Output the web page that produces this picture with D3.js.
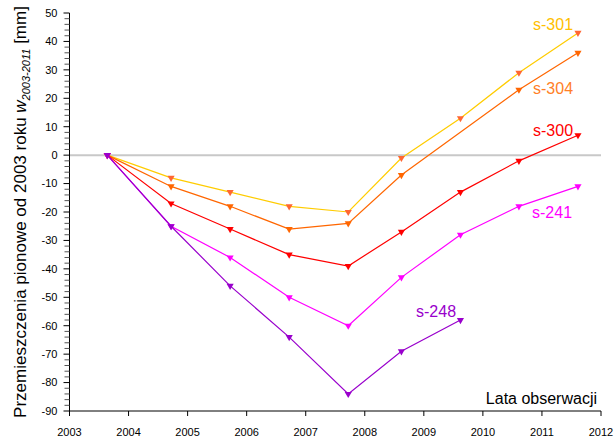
<!DOCTYPE html>
<html><head><meta charset="utf-8">
<script src="https://cdn.jsdelivr.net/npm/d3@7"></script>
<style>body{margin:0;background:#fff;}svg{display:block;font-family:"Liberation Sans",Arial,sans-serif;}</style>
</head><body>
<svg id="c" width="614" height="439"></svg>
<script>
const dates = [2003.64, 2004.72, 2005.72, 2006.72, 2007.72, 2008.62, 2009.62, 2010.61, 2011.61];
const s301 = [0, -8, -13, -18, -20, -1, 13, 29, 43];
const s304 = [0, -11, -18, -26, -24, -7, null, 23, 36];
const s300 = [0, -17, -26, -35, -39, -27, -13, -2, 7];
const s241 = [0, -25, -36, -50, -60, -43, -28, -18, -11];
const s248 = [0, -25, -46, -64, -84, -69, -58, null, null];
const seriesNames = ["s-301", "s-304", "s-300", "s-241", "s-248"];
const xTicks = [2003, 2004, 2005, 2006, 2007, 2008, 2009, 2010, 2011, 2012];
const yTicks = [50, 40, 30, 20, 10, 0, -10, -20, -30, -40, -50, -60, -70, -80, -90];

const series = [
  {name: "s-301", values: s301, line: "#FFCC00", marker: "#FF6633", label: "#FFC000", lx: 533, ly: 30},
  {name: "s-304", values: s304, line: "#FF6600", marker: "#FF6600", label: "#FF7F27", lx: 533, ly: 94},
  {name: "s-300", values: s300, line: "#FF0000", marker: "#FF0000", label: "#FF0000", lx: 533, ly: 136},
  {name: "s-241", values: s241, line: "#FF00FF", marker: "#FF00FF", label: "#FF00FF", lx: 532, ly: 218},
  {name: "s-248", values: s248, line: "#9900CC", marker: "#9900CC", label: "#9900CC", lx: 416, ly: 317}
];

const svg = d3.select("#c");
const x = d3.scaleLinear().domain([2003, 2012]).range([69.5, 601]);
const y = d3.scaleLinear().domain([-90, 50]).range([411, 13]);

// zero line
svg.append("line").attr("x1", x(2003)).attr("x2", x(2012)).attr("y1", y(0)).attr("y2", y(0))
  .attr("stroke", "#c8c8c8").attr("stroke-width", 2);

// y axis
const yAx = svg.append("g").attr("transform", `translate(${x(2003)},0)`);
yAx.append("line").attr("y1", y(50)).attr("y2", y(-90)).attr("stroke", "#000");
d3.range(-90, 51, 2).forEach(v => {
  const major = v % 10 === 0;
  yAx.append("line").attr("x1", major ? -6 : -5).attr("x2", 0).attr("y1", y(v)).attr("y2", y(v))
    .attr("stroke", major ? "#000" : "#555");
});
yTicks.forEach(v => {
  yAx.append("text").attr("x", -12).attr("y", y(v)).attr("dy", "0.35em").attr("text-anchor", "end")
    .attr("font-size", 11).text(v);
});

// x axis
const xAx = svg.append("g").attr("transform", `translate(0,${y(-90)})`);
xAx.append("line").attr("x1", x(2003)).attr("x2", x(2012)).attr("stroke", "#000");
xTicks.forEach(v => {
  xAx.append("line").attr("x1", x(v)).attr("x2", x(v)).attr("y1", 0).attr("y2", 5).attr("stroke", "#000");
  xAx.append("text").attr("x", x(v)).attr("y", 25).attr("text-anchor", "middle").attr("font-size", 11).text(v);
});

// series
const line = d3.line().x(d => x(d[0])).y(d => y(d[1]));
const tri = d3.symbol().type(d3.symbolTriangle).size(22);
series.forEach(s => {
  const pts = dates.map((d, i) => [d, s.values[i]]).filter(p => p[1] !== null);
  svg.append("path").attr("d", line(pts)).attr("fill", "none").attr("stroke", s.line).attr("stroke-width", 1.2);
  svg.append("g").selectAll("path").data(pts).join("path")
    .attr("d", tri).attr("transform", p => `translate(${x(p[0])},${y(p[1])}) rotate(180)`)
    .attr("fill", s.marker);
  svg.append("text").attr("x", s.lx).attr("y", s.ly).attr("font-size", 16).attr("fill", s.label).text(s.name);
});

// axis titles
svg.append("text").attr("x", 597).attr("y", 404).attr("text-anchor", "end").attr("font-size", 16).text("Lata obserwacji");
const yt = svg.append("text").attr("transform", "translate(26,212) rotate(-90)").attr("text-anchor", "middle")
  .attr("font-size", 17);
yt.append("tspan").text("Przemieszczenia pionowe od 2003 roku ");
yt.append("tspan").attr("font-style", "italic").text("w");
yt.append("tspan").attr("font-style", "italic").attr("font-size", 11).attr("dy", 4).text("2003-2011");
yt.append("tspan").attr("dy", -4).text(" [mm]");
</script>
</body></html>
